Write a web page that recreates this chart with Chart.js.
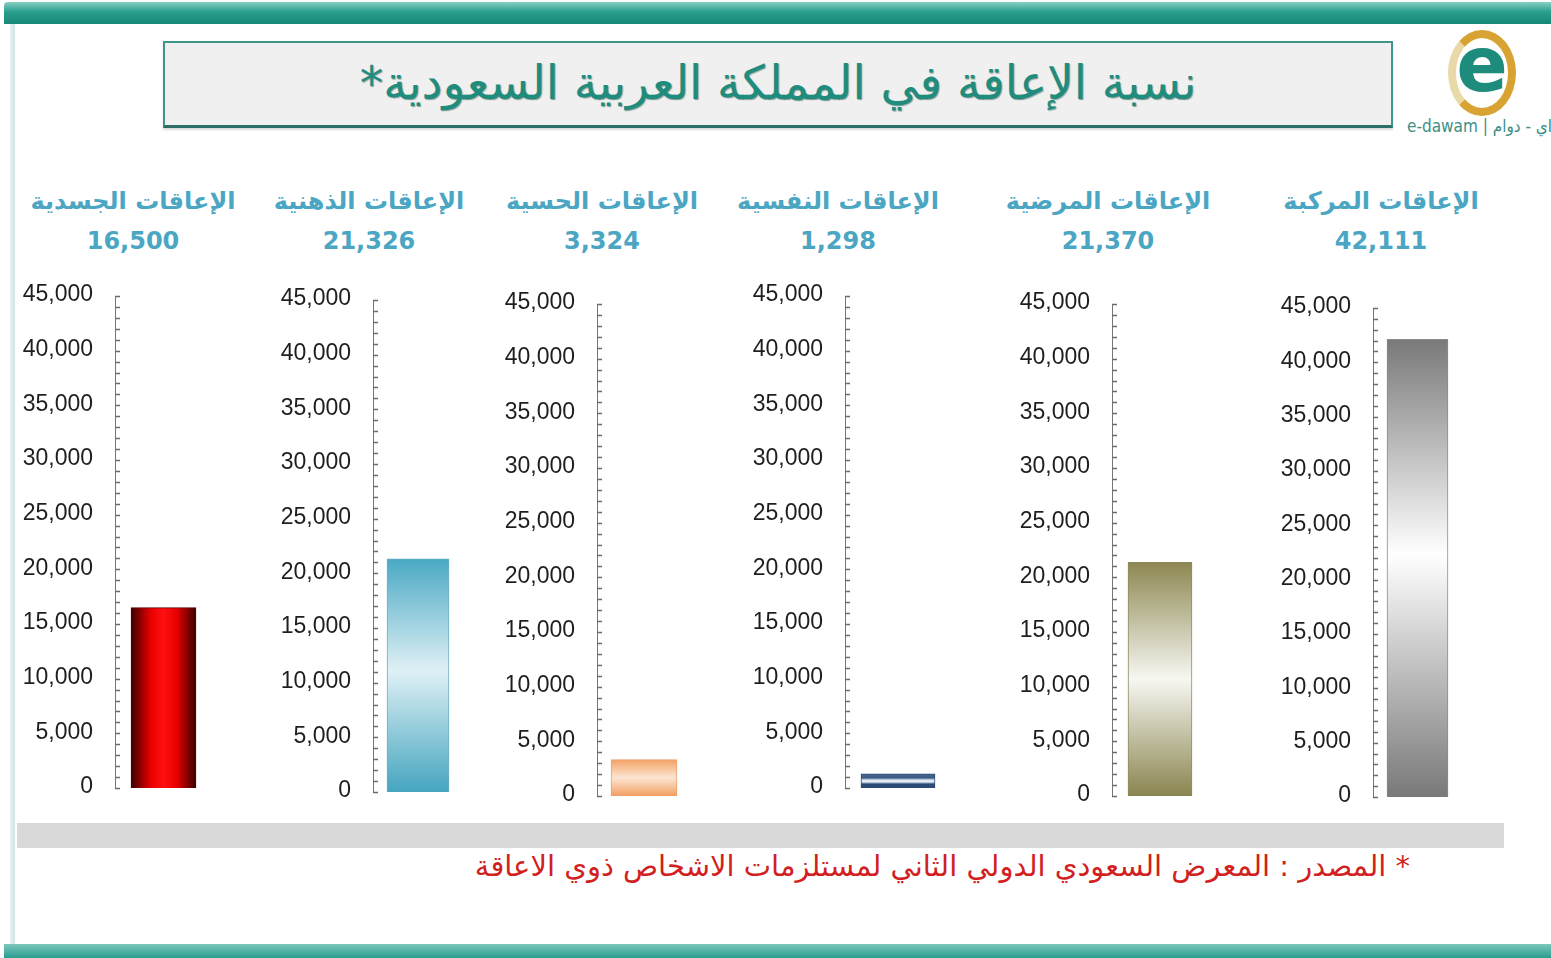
<!DOCTYPE html>
<html>
<head>
<meta charset="utf-8">
<script src="https://cdn.jsdelivr.net/npm/chart.js@4.4.0/dist/chart.umd.min.js"></script>
<style>
  html, body { margin: 0; padding: 0; width: 1551px; height: 958px; overflow: hidden; background: #fff; }
  #page { position: relative; width: 1551px; height: 958px; }
  .band { position: absolute; left: 4px; right: 0; }
  #topBand { top: 2px; height: 22px; background: linear-gradient(#86d0c4, #2a9e8e 45%, #178878); border-radius: 4px 0 0 0; }
  #bottomBand { top: 944px; height: 14px; background: linear-gradient(#7cc7bc, #2a9d8f); }
  #leftEdge { position: absolute; left: 10px; top: 24px; width: 5px; height: 920px; background: linear-gradient(90deg, #e8f2f3, #cfe3e6); }
  #titleBox { position: absolute; left: 163px; top: 41px; width: 1226px; height: 82px;
    background: #f0f0f0; border: 2px solid #3f968b; border-bottom: 3px solid #2d6f67;
    box-shadow: 0 2px 2px rgba(0,0,0,0.15); }
  #titleText { position: absolute; left: 0; right: 0; top: 12px; text-align: center; direction: rtl;
    font-family: "DejaVu Sans", sans-serif; font-size: 47px; color: #1f8c7d;
    text-shadow: 1px 1px 1px rgba(0,60,50,0.45); }
  #logoRing { position: absolute; left: 1448px; top: 30px; width: 52px; height: 70px; border-radius: 50%;
    border: 8px solid #d8a332; border-left-color: #e9d9a8; }
  #logoE { position: absolute; left: 1446px; top: 20px; width: 72px; text-align: center;
    font-family: "DejaVu Sans", sans-serif; font-weight: bold; font-size: 76px; color: #1e8c7c; }
  #logoText { position: absolute; left: 1407px; top: 116px; white-space: nowrap;
    font-family: "DejaVu Sans Condensed", "DejaVu Sans", sans-serif; font-size: 17px; color: #3c8f86; }
  .catTitle { position: absolute; width: 300px; text-align: center; direction: rtl;
    font-family: "DejaVu Sans", sans-serif; font-weight: bold; color: #4ba6c3; line-height: 40px; font-size: 24px; }
  canvas { position: absolute; }
  #sepBar { position: absolute; left: 17px; top: 823px; width: 1487px; height: 25px; background: #d9d9d9; }
  #source { position: absolute; right: 141px; top: 849px; direction: rtl; white-space: nowrap;
    font-family: "DejaVu Sans", sans-serif; font-size: 29px; color: #d21f1f; }
</style>
</head>
<body>
<div id="page">
  <div id="topBand" class="band"></div>
  <div id="leftEdge"></div>
  <div id="titleBox"><div id="titleText">نسبة الإعاقة في المملكة العربية السعودية*</div></div>
  <div id="logoRing"></div>
  <div id="logoE">e</div>
  <div id="logoText">e-dawam | اي - دوام</div>
  <div id="sepBar"></div>
  <div id="source">* المصدر : المعرض السعودي الدولي الثاني لمستلزمات الاشخاص ذوي الاعاقة</div>
  <div id="bottomBand" class="band"></div>
</div>
<script>
// data
const categories = ['الإعاقات الجسدية', 'الإعاقات الذهنية', 'الإعاقات الحسية', 'الإعاقات النفسية', 'الإعاقات المرضية', 'الإعاقات المركبة'];
const values = [16500, 21326, 3324, 1298, 21370, 42111];
const axisMax = 45000;
const majorStep = 5000;
const minorStep = 1000;

// where each small chart sits on the page
const panels = [
  { axisX: 115,  top: 296, zero: 788, barLeft: 131,  barRight: 196,  titleX: 133 },
  { axisX: 373,  top: 300, zero: 792, barLeft: 387,  barRight: 449,  titleX: 369 },
  { axisX: 597,  top: 304, zero: 796, barLeft: 611,  barRight: 677,  titleX: 602 },
  { axisX: 845,  top: 296, zero: 788, barLeft: 861,  barRight: 935,  titleX: 838 },
  { axisX: 1112, top: 304, zero: 796, barLeft: 1128, barRight: 1192, titleX: 1108 },
  { axisX: 1373, top: 308, zero: 797, barLeft: 1387, barRight: 1448, titleX: 1381 },
];

// bar fills: [direction, stops]
const fills = [
  ['h', [[0, '#3a0000'], [0.3, '#e80000'], [0.5, '#ff1010'], [0.7, '#e80000'], [1, '#3a0000']]],
  ['v', [[0, '#4aa9c4'], [0.48, '#dff0f5'], [1, '#45a5bf']]],
  ['v', [[0, '#f3a264'], [0.5, '#fde5d3'], [1, '#f29e60']]],
  ['v', [[0, '#4b6a92'], [0.28, '#3a5a86'], [0.45, '#e3ebf4'], [0.58, '#e3ebf4'], [0.72, '#2c4a78'], [1, '#2c4a78']]],
  ['v', [[0, '#8d8852'], [0.5, '#f7f7f2'], [1, '#8a8550']]],
  ['v', [[0, '#797979'], [0.47, '#ffffff'], [1, '#797979']]],
];
const borders = ['#5a0000', '#6aaec2', '#e8a070', '#2c4a78', '#8d8a60', '#8a8a8a'];

const labelWidth = 110;
const pad = 14;

const minorTicks = {
  id: 'minorTicks',
  afterDraw(chart) {
    const y = chart.scales.y, c = chart.ctx, left = chart.chartArea.left;
    c.save();
    c.strokeStyle = '#6a6a6a';
    c.lineWidth = 1.5;
    for (let v = 0; v <= axisMax; v += minorStep) {
      const py = Math.round(y.getPixelForValue(v)) + 0.5;
      c.beginPath();
      c.moveTo(left, py);
      c.lineTo(left + 5, py);
      c.stroke();
    }
    c.restore();
  }
};

function barFill(chart, i) {
  const area = chart.chartArea;
  if (!area) return fills[i][1][1][1];
  const [dir, stops] = fills[i];
  const ys = chart.scales.y, xs = chart.scales.x;
  let g;
  if (dir === 'v') {
    g = chart.ctx.createLinearGradient(0, ys.getPixelForValue(values[i]), 0, ys.getPixelForValue(0));
  } else {
    const cx = xs.getPixelForValue(0);
    const half = (panels[i].barRight - panels[i].barLeft) / 2;
    g = chart.ctx.createLinearGradient(cx - half, 0, cx + half, 0);
  }
  stops.forEach(s => g.addColorStop(s[0], s[1]));
  return g;
}

const page = document.getElementById('page');

categories.forEach((cat, i) => {
  const p = panels[i];

  const t = document.createElement('div');
  t.className = 'catTitle';
  t.style.left = (p.titleX - 150) + 'px';
  t.style.top = '181px';
  t.innerHTML = cat + '<br>' + values[i].toLocaleString('en-US');
  page.appendChild(t);

  const cv = document.createElement('canvas');
  const barCenter = (p.barLeft + p.barRight) / 2;
  const w = labelWidth + 2 * (barCenter - p.axisX);
  const h = p.zero - p.top + 2 * pad;
  cv.width = w; cv.height = h;
  cv.style.left = (p.axisX - labelWidth) + 'px';
  cv.style.top = (p.top - pad) + 'px';
  cv.style.width = w + 'px'; cv.style.height = h + 'px';
  page.appendChild(cv);

  new Chart(cv.getContext('2d'), {
    type: 'bar',
    data: {
      labels: [cat],
      datasets: [{
        data: [values[i]],
        barThickness: p.barRight - p.barLeft,
        backgroundColor: ctx => barFill(ctx.chart, i),
        borderColor: borders[i],
        borderWidth: 1,
      }]
    },
    options: {
      responsive: false,
      animation: false,
      devicePixelRatio: 1,
      layout: { padding: { top: pad, bottom: pad, left: 0, right: 0 } },
      plugins: { legend: { display: false }, tooltip: { enabled: false } },
      scales: {
        x: { display: false },
        y: {
          min: 0,
          max: axisMax,
          afterFit: s => { s.width = labelWidth; s.paddingTop = 0; s.paddingBottom = 0; },
          border: { display: true, color: '#777', width: 1 },
          grid: { display: false, drawTicks: false },
          ticks: {
            stepSize: majorStep,
            padding: 22,
            labelOffset: -1,
            color: '#1e1e1e',
            font: { family: 'Liberation Sans', size: 23 },
            callback: v => v.toLocaleString('en-US')
          }
        }
      }
    },
    plugins: [minorTicks]
  });
});
</script>
</body>
</html>
